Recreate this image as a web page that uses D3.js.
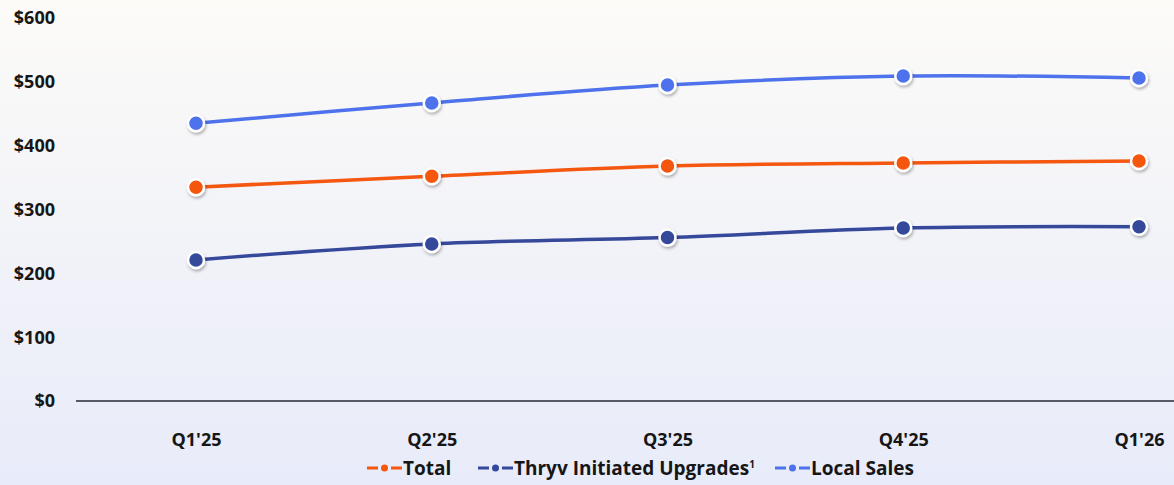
<!DOCTYPE html>
<html>
<head>
<meta charset="utf-8">
<script src="https://cdn.jsdelivr.net/npm/d3@7"></script>
<style>
  html, body { margin: 0; padding: 0; }
  body { width: 1174px; height: 485px; overflow: hidden; }
  text { font-family: "Open Sans", "Noto Sans", sans-serif; font-weight: 700; fill: #161616; }
</style>
</head>
<body>
<div id="chart-area"></div>
<script>
const quarters = ["Q1'25", "Q2'25", "Q3'25", "Q4'25", "Q1'26"];
const localSales = [435, 467, 495, 509, 506];
const total = [335, 352, 368, 373, 376];
const thryvUpgrades = [221, 246, 256, 271, 273];
const yTicks = [0, 100, 200, 300, 400, 500, 600];

const seriesNames = ["Total", "Thryv Initiated Upgrades", "Local Sales"];
const seriesColors = ["#f4570f", "#35489a", "#4e72ec"];
const seriesValues = [total, thryvUpgrades, localSales];

const width = 1174;
const height = 485;

const svg = d3.select("#chart-area")
    .append("svg")
    .attr("width", width)
    .attr("height", height);

const defs = svg.append("defs");
const grad = defs.append("linearGradient")
    .attr("id", "bg")
    .attr("x1", 0).attr("y1", 0).attr("x2", 0).attr("y2", 1);
grad.append("stop").attr("offset", "0%").attr("stop-color", "#fcfbf8");
grad.append("stop").attr("offset", "100%").attr("stop-color", "#e8ebf9");

const shadow = defs.append("filter")
    .attr("id", "shadow")
    .attr("x", "-50%").attr("y", "-50%")
    .attr("width", "200%").attr("height", "200%");
shadow.append("feDropShadow")
    .attr("dx", 1).attr("dy", 2)
    .attr("stdDeviation", 1.5)
    .attr("flood-color", "#000")
    .attr("flood-opacity", 0.3);

svg.append("rect")
    .attr("width", width)
    .attr("height", height)
    .attr("fill", "url(#bg)");

const x = d3.scalePoint()
    .domain(quarters)
    .range([196, 1139]);

const y = d3.scaleLinear()
    .domain([0, 600])
    .range([401, 18]);

// y labels (no axis line)
svg.append("g")
    .selectAll("text")
    .data(yTicks)
    .enter()
    .append("text")
    .attr("x", 55)
    .attr("y", (d) => y(d))
    .attr("dy", "0.36em")
    .attr("text-anchor", "end")
    .attr("font-size", "18px")
    .text((d) => "$" + d);

// bottom axis
const bottomAxis = d3.axisBottom(x).tickSize(0).tickPadding(0);
const xg = svg.append("g")
    .attr("transform", "translate(0, " + y(0) + ")")
    .call(bottomAxis);
xg.select(".domain").remove();
xg.selectAll("text")
    .attr("y", 32)
    .attr("font-size", "18px")
    .attr("font-family", "Open Sans")
    .attr("fill", "#161616");

svg.append("line")
    .attr("x1", 76)
    .attr("x2", width)
    .attr("y1", y(0))
    .attr("y2", y(0))
    .attr("stroke", "#555a66")
    .attr("stroke-width", 2);

const line = d3.line()
    .x((d, i) => x(quarters[i]))
    .y((d) => y(d))
    .curve(d3.curveCatmullRom.alpha(0.5));

seriesValues.forEach((vals, s) => {
    svg.append("path")
        .datum(vals)
        .attr("fill", "none")
        .attr("stroke", seriesColors[s])
        .attr("stroke-width", 3.5)
        .attr("d", line);
});

seriesValues.forEach((vals, s) => {
    svg.append("g")
        .selectAll("circle")
        .data(vals)
        .enter()
        .append("circle")
        .attr("cx", (d, i) => x(quarters[i]))
        .attr("cy", (d) => y(d))
        .attr("r", 8)
        .attr("fill", seriesColors[s])
        .attr("stroke", "#fff")
        .attr("stroke-width", 2.5)
        .attr("filter", "url(#shadow)");
});

// legend
const legendX = [367, 478, 775];
const legend = svg.append("g");
seriesNames.forEach((name, s) => {
    const lg = legend.append("g")
        .attr("transform", "translate(" + legendX[s] + ", 468)");
    lg.append("line")
        .attr("x1", 0).attr("x2", 35)
        .attr("stroke", seriesColors[s])
        .attr("stroke-width", 3)
        .attr("stroke-dasharray", "11,13,11");
    lg.append("circle")
        .attr("cx", 17.5)
        .attr("r", 3.5)
        .attr("fill", seriesColors[s]);
    const t = lg.append("text")
        .attr("x", 36)
        .attr("dy", "0.36em")
        .attr("font-size", "19px")
        .text(name);
    if (s === 1) {
        t.append("tspan")
            .attr("font-size", "10px")
            .attr("dy", "-7")
            .text("1");
    }
});
</script>
</body>
</html>
